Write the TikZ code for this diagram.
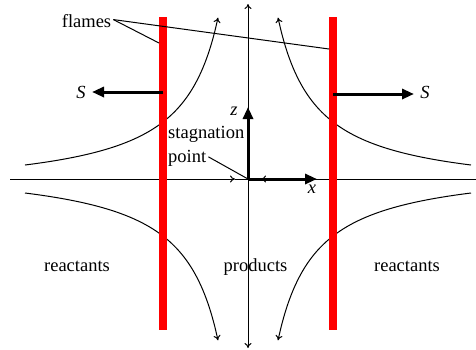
\documentclass[tikz,border=0pt]{standalone}
\usepackage{fontspec}
\setmainfont{Liberation Serif}
\newfontfamily\timesf{Liberation Serif}
\usetikzlibrary{arrows.meta}
\begin{document}
\begin{tikzpicture}[x=1pt,y=-1pt,
  thinline/.style={line width=1pt},
  flowtip/.style={-{To[length=5pt,width=7pt]}},
  thickarrow/.style={line width=3pt,-{Triangle[length=12pt,width=10pt]}},
  flame/.style={draw=none,fill=red,minimum width=8pt,minimum height=313pt,inner sep=0pt},
  lbl/.style={font=\timesf\fontsize{18.5}{23}\selectfont,inner sep=0pt},
  curve/.style={thinline,smooth,samples=60,flowtip},
]
\useasboundingbox (0,0) rectangle (476,349);
% coordinates
\coordinate (O) at (248,179);
\coordinate (L) at (10,179);
\coordinate (LA) at (235,179);
\coordinate (R) at (476,179);
\coordinate (RS) at (290,179);
\coordinate (RA) at (261,179);
\coordinate (T) at (248,4);
\coordinate (B) at (248,348);
\coordinate (XA) at (317,179);
\coordinate (ZA) at (248,107);
% streamlines (hyperbolas)
\draw[curve] plot[domain=25:218] (\x,{194-6699/(256-\x)});
\draw[curve] plot[domain=25:218] (\x,{164+6699/(256-\x)});
\draw[curve] plot[domain=471:278] (\x,{194-6699/(\x-240)});
\draw[curve] plot[domain=471:278] (\x,{164+6699/(\x-240)});
% axes
\draw[thinline,flowtip] (L) -- (LA);
\draw[thinline] (LA) -- (O);
\draw[thinline] (R) -- (O);
\draw[thinline,flowtip] (O) -- (T);
\draw[thinline,flowtip] (O) -- (B);
\draw[thickarrow] (O) -- (XA);
\draw[thickarrow] (O) -- (ZA);
\draw[thinline,flowtip] (RS) -- (RA);
% flames
\node[flame] (F1) at (163,173.5) {};
\node[flame] (F2) at (333,173.5) {};
\coordinate (S1a) at (163,92);
\coordinate (S1b) at (92,92);
\coordinate (S2a) at (333,94);
\coordinate (S2b) at (414,94);
\draw[thickarrow] (S1a) -- (S1b);
\draw[thickarrow] (S2a) -- (S2b);
% labels
\node[lbl,anchor=base] (S1) at (81,98) {\textit{S}};
\node[lbl,anchor=base] (S2) at (425,98) {\textit{S}};
\node[lbl,anchor=base] (zl) at (234,115) {\textit{z}};
\node[lbl,anchor=base] (xl) at (312,193) {\textit{x}};
\node[lbl,anchor=base] (flames) at (86.5,27) {flames};
\coordinate (f1) at (159,43);
\coordinate (f2) at (329,49);
\draw[thinline] ([xshift=2pt,yshift=1pt]flames.east) -- (f1);
\draw[thinline] ([xshift=2pt,yshift=1pt]flames.east) -- (f2);
\node[lbl,anchor=base west] (stag) at (168,138) {stagnation};
\node[lbl,anchor=base west] (point) at (168,162) {point};
\draw[thinline] ([xshift=2pt,yshift=1pt]point.east) -- (O);
\node[lbl,anchor=base] (reL) at (77,271) {reactants};
\node[lbl,anchor=base] (prod) at (255.5,271) {products};
\node[lbl,anchor=base] (reR) at (407,271) {reactants};
\end{tikzpicture}
\end{document}
